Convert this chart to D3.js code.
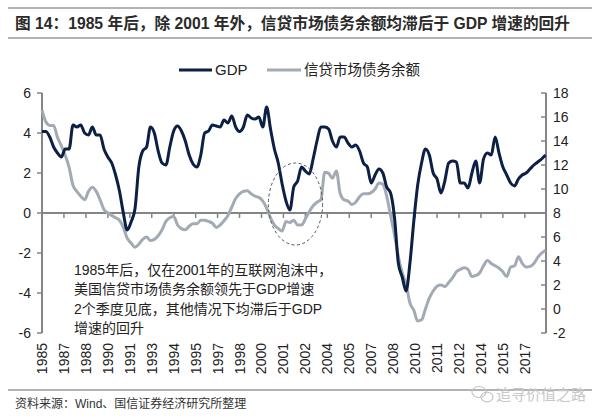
<!DOCTYPE html>
<html>
<head>
<meta charset="utf-8">
<script src="https://cdn.jsdelivr.net/npm/d3@7"></script>
<style>
  body { margin: 0; background: #fff; }
  svg { display: block; font-family: Arial, "Liberation Sans", "Noto Sans CJK SC", sans-serif; }
</style>
</head>
<body>
<div id="chart"></div>
<script>
// quarterly values, first point 1985Q4, last 2018Q2
const gdp = [
  4.07, 4.07, 3.8, 3.3, 3.0, 2.8, 3.2, 3.2, 4.4, 4.3,
  4.4, 4.0, 3.9, 4.3, 3.9, 3.9, 3.2, 2.8, 2.5, 1.9,
  1.1, 0.0, -0.85, -0.45, 0.2, 2.3, 3.1, 3.3, 4.3, 4.0,
  3.1, 2.5, 2.4, 3.3, 4.1, 4.35, 4.1, 3.6, 2.9, 2.45,
  2.3, 2.9, 4.0, 4.1, 4.4, 4.35, 4.3, 4.65, 4.5, 4.85,
  4.3, 4.07, 4.3, 4.9, 4.75, 4.7, 4.8, 4.3, 5.3, 4.2,
  3.2, 2.5, 1.45, 0.6, 0.15, 1.3, 1.6, 2.3, 2.1, 1.95,
  2.7, 3.6, 4.3, 4.3, 4.2, 3.6, 3.3, 3.8, 3.8, 3.5,
  3.3, 3.4, 3.1, 2.5, 2.3, 1.5, 1.9, 2.2, 2.0, 1.3,
  1.0, -0.2, -2.5, -3.2, -3.9, -2.5, -0.4, 1.4, 2.5, 3.2,
  2.9, 2.0, 1.7, 1.0, 1.6, 2.5, 2.6, 2.55, 1.5, 1.5,
  1.25, 2.0, 2.6, 1.5, 2.7, 3.0, 2.9, 3.8, 3.0, 2.3,
  1.9, 1.5, 1.35, 1.7, 1.9, 2.0, 2.2, 2.4, 2.55, 2.7,
  2.9
];
const debt = [
  16.6, 15.6, 15.3, 15.3, 14.3, 13.6, 12.8, 11.8, 10.3, 9.8,
  9.4, 9.1, 9.8, 10.15, 9.8, 9.1, 8.3, 8.0, 7.8, 7.6,
  7.4, 6.8, 5.9, 5.5, 5.15, 5.4, 5.8, 6.0, 5.7, 5.8,
  6.1, 6.6, 7.3, 7.6, 7.7, 7.0, 6.7, 6.6, 6.9, 7.1,
  7.1, 7.4, 7.4, 7.3, 7.15, 6.8, 7.0, 7.35, 7.8, 8.5,
  9.2, 9.6, 9.8, 9.85, 9.6, 9.4, 9.3, 9.0, 8.4, 7.6,
  7.0, 6.7, 6.5, 7.3, 7.2, 7.4, 7.0, 7.0, 7.5, 8.1,
  8.6, 8.9, 9.1, 11.4, 11.3, 10.9, 11.5, 9.6, 9.1, 9.0,
  8.7, 8.9, 9.35, 9.6, 9.6, 9.7, 10.0, 10.5, 10.4, 9.4,
  7.8, 6.2, 4.4, 3.0, 2.1, 0.5, -0.1, -1.0, -0.9, 0.0,
  0.9, 1.5, 1.9, 2.0, 1.86, 2.2, 2.6, 3.1, 3.3, 3.44,
  3.3, 2.7, 2.8, 3.0, 3.6, 4.05, 3.8, 3.6, 3.4, 3.1,
  2.7, 3.5, 3.6, 4.35, 3.8, 3.5, 3.55, 3.8, 4.3, 4.65,
  4.9
];
// category axis labels, one every 17 months from Dec 1985
const xLabels = ["1985", "1987", "1988", "1990", "1991", "1993", "1994", "1995",
  "1997", "1998", "2000", "2001", "2002", "2004", "2005", "2007", "2008", "2010",
  "2011", "2012", "2014", "2015", "2017"];
const labelStep = 17;   // months between labels
const leftTicks = [-6, -4, -2, 0, 2, 4, 6];
const rightTicks = [-2, 0, 2, 4, 6, 8, 10, 12, 14, 16, 18];

const title = "图 14：1985 年后，除 2001 年外，信贷市场债务余额均滞后于 GDP 增速的回升";
const note = [
  "1985年后，仅在2001年的互联网泡沫中，",
  "美国信贷市场债务余额领先于GDP增速",
  "2个季度见底，其他情况下均滞后于GDP",
  "增速的回升"
];
const source = "资料来源：Wind、国信证券经济研究所整理";

const W = 600, H = 417;
const navy = "#0c1f45", grey = "#a2abb5", axisCol = "#858585";

const svg = d3.select("#chart").append("svg")
  .attr("width", W).attr("height", H);

// months since Dec 1985
const months = gdp.map((d, i) => i * 3);
const x = d3.scaleLinear().domain([0, d3.max(months)]).range([42, 545.5]);
const yL = d3.scaleLinear().domain([-6, 6]).range([333, 93]);
const yR = d3.scaleLinear().domain([-2, 18]).range([333, 93]);

// title block
svg.append("line").attr("x1", 8).attr("x2", 592).attr("y1", 8).attr("y2", 8)
  .attr("stroke", "#9a9a9a").attr("stroke-width", 1.5);
svg.append("line").attr("x1", 8).attr("x2", 592).attr("y1", 38).attr("y2", 38)
  .attr("stroke", "#9a9a9a").attr("stroke-width", 1.5);
svg.append("text").attr("x", 15).attr("y", 28.5)
  .attr("font-size", 15.7).attr("font-weight", "bold").attr("fill", "#2a2a2a")
  .text(title);

// left axis
const gL = svg.append("g").attr("transform", "translate(42,0)");
gL.append("line").attr("y1", yL(-6)).attr("y2", yL(6)).attr("stroke", axisCol).attr("stroke-width", 2);
leftTicks.forEach(t => {
  gL.append("line").attr("x1", -5).attr("x2", 0).attr("y1", yL(t)).attr("y2", yL(t))
    .attr("stroke", axisCol).attr("stroke-width", 1.5);
  gL.append("text").attr("x", -11).attr("y", yL(t)).attr("dy", "0.35em")
    .attr("text-anchor", "end").attr("font-size", 14).attr("fill", "#222").text(t);
});

// right axis
const gR = svg.append("g").attr("transform", "translate(546,0)");
gR.append("line").attr("y1", yR(-2)).attr("y2", yR(18)).attr("stroke", axisCol).attr("stroke-width", 2);
rightTicks.forEach(t => {
  gR.append("line").attr("x1", -5).attr("x2", 0).attr("y1", yR(t)).attr("y2", yR(t))
    .attr("stroke", axisCol).attr("stroke-width", 1.5);
  gR.append("text").attr("x", 7).attr("y", yR(t)).attr("dy", "0.35em")
    .attr("text-anchor", "start").attr("font-size", 14).attr("fill", "#222").text(t);
});

// category axis on the zero line
svg.append("line").attr("x1", 42).attr("x2", 546).attr("y1", yL(0)).attr("y2", yL(0))
  .attr("stroke", axisCol).attr("stroke-width", 2);
xLabels.forEach((lab, i) => {
  const px = x(i * labelStep);
  svg.append("line").attr("x1", px).attr("x2", px).attr("y1", yL(0)).attr("y2", yL(0) + 5)
    .attr("stroke", axisCol).attr("stroke-width", 1.5);
  svg.append("text")
    .attr("transform", `translate(${px + 5},343) rotate(-90)`)
    .attr("text-anchor", "end").attr("font-size", 14).attr("fill", "#222")
    .text(lab);
});

// series
const lineL = d3.line().x((d, i) => x(months[i])).y(d => yL(d)).curve(d3.curveMonotoneX);
const lineR = d3.line().x((d, i) => x(months[i])).y(d => yR(d)).curve(d3.curveMonotoneX);

svg.append("path").datum(debt).attr("d", lineR)
  .attr("fill", "none").attr("stroke", grey).attr("stroke-width", 3)
  .attr("stroke-linejoin", "round");
svg.append("path").datum(gdp).attr("d", lineL)
  .attr("fill", "none").attr("stroke", navy).attr("stroke-width", 3)
  .attr("stroke-linejoin", "round");

// dashed ellipse around the 2001 episode (centre ~ early 2002, GDP ~0.45)
svg.append("ellipse")
  .attr("cx", x(65.45 * 3)).attr("cy", yL(0.45))
  .attr("rx", x(7 * 3) - x(0)).attr("ry", yL(0) - yL(2.05))
  .attr("fill", "none").attr("stroke", "#555").attr("stroke-width", 1)
  .attr("stroke-dasharray", "3,2.5");

// annotation
note.forEach((t, i) => {
  svg.append("text").attr("x", 74).attr("y", 275 + i * 19.3)
    .attr("font-size", 14).attr("fill", "#222").text(t);
});

// legend
const leg = svg.append("g");
leg.append("line").attr("x1", 179).attr("x2", 212).attr("y1", 70).attr("y2", 70)
  .attr("stroke", navy).attr("stroke-width", 3);
leg.append("text").attr("x", 215).attr("y", 70).attr("dy", "0.36em")
  .attr("font-size", 15).attr("fill", "#222").text("GDP");
leg.append("line").attr("x1", 267).attr("x2", 301).attr("y1", 70).attr("y2", 70)
  .attr("stroke", grey).attr("stroke-width", 3);
leg.append("text").attr("x", 304).attr("y", 70).attr("dy", "0.36em")
  .attr("font-size", 14.5).attr("fill", "#222").text("信贷市场债务余额");

// footer
svg.append("line").attr("x1", 8).attr("x2", 592).attr("y1", 390).attr("y2", 390)
  .attr("stroke", "#9a9a9a").attr("stroke-width", 1.5);
svg.append("text").attr("x", 15).attr("y", 408)
  .attr("font-size", 12).attr("fill", "#333").text(source);

// watermark
const wm = svg.append("g").attr("fill", "none").attr("stroke", "#c4c4c4").attr("stroke-width", 1.2);
wm.append("ellipse").attr("cx", 479).attr("cy", 392).attr("rx", 7).attr("ry", 5.5);
wm.append("ellipse").attr("cx", 487).attr("cy", 397).attr("rx", 6).attr("ry", 4.8);
svg.append("text").attr("x", 496).attr("y", 400)
  .attr("font-size", 15).attr("fill", "#c8c8c8").text("追寻价值之路");
</script>
</body>
</html>
